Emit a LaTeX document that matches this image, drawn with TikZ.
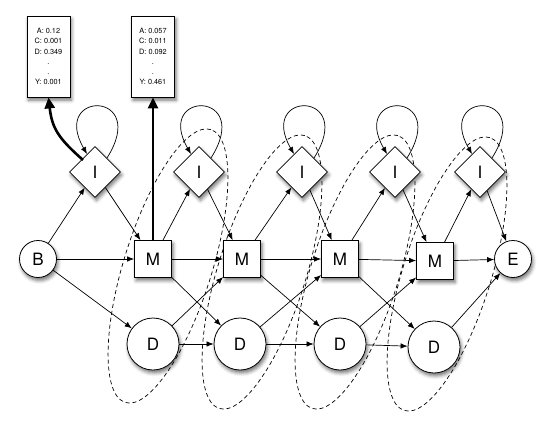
\documentclass[tikz,border=0pt]{standalone}
\usepackage{fontspec}
\setmainfont{TeX Gyre Heros}
\usetikzlibrary{shapes.geometric,arrows.meta,shadows.blur}
\tikzset{
  shad/.style={blur shadow={shadow xshift=1.5pt,shadow yshift=-3pt,shadow blur radius=3.5pt,shadow opacity=55}},
  lbl/.style={font=\fontsize{17}{20}\selectfont},
  circnode/.style={circle,draw,fill=white,line width=0.8pt,minimum size=37pt,inner sep=0pt,shad,lbl},
  delnode/.style={circnode,minimum size=52pt},
  insnode/.style={diamond,draw,fill=white,line width=0.8pt,minimum size=51pt,inner sep=0pt,shad,lbl},
  matnode/.style={rectangle,draw,fill=white,line width=0.8pt,minimum size=37pt,inner sep=0pt,shad,lbl},
  emisbox/.style={rectangle,draw,fill=white,line width=0.8pt,minimum width=43pt,minimum height=81pt,inner sep=0pt,align=center,shad,font=\fontsize{7.3}{10.2}\selectfont},
  conn/.style={-{Latex[length=7pt,width=5.5pt]},line width=0.7pt},
  thickconn/.style={-{Triangle[length=11pt,width=10pt]},line width=2.6pt},
  dashring/.style={dashed,dash pattern=on 4pt off 3pt,line width=0.7pt}
}
\begin{document}
\begin{tikzpicture}[x=1pt,y=-1pt]
\useasboundingbox (0,0) rectangle (554,447);
% dashed rings
\foreach \cx/\cy in {168/266,262/272,355/272,447/274}
  \draw[dashring,rotate around={72.6:(\cx,\cy)}] (\cx,\cy) ellipse [x radius=143pt,y radius=44pt];
% nodes
\node[circnode] (B) at (38,259) {B};
\node[circnode] (E) at (513,259) {E};
\node[insnode] (I1) at (95,172) {I};
\node[insnode] (I2) at (199,172) {I};
\node[insnode] (I3) at (302,172) {I};
\node[insnode] (I4) at (395,172) {I};
\node[insnode] (I5) at (480,172) {I};
\node[matnode] (M1) at (153,259) {M};
\node[matnode] (M2) at (242,259) {M};
\node[matnode] (M3) at (340,259) {M};
\node[matnode] (M4) at (435,261) {M};
\node[delnode] (D1) at (153,344) {D};
\node[delnode] (D2) at (240,344) {D};
\node[delnode] (D3) at (340,344) {D};
\node[delnode] (D4) at (434,347) {D};
\node[emisbox] (box1) at (48.5,56.5) {A: 0.12\\C: 0.001\\D: 0.349\\.\\.\\Y: 0.001};
\node[emisbox] (box2) at (153,56.5) {A: 0.057\\C: 0.011\\D: 0.092\\.\\.\\Y: 0.461};
% self loops
\foreach \n in {I1,I2,I3,I4,I5}
  \draw[conn] ([shift={(12,-14)}]\n.center) .. controls +(43,-68) and +(-37,-64) .. ([shift={(-8,-18)}]\n.center);
% thick emission arrows
\draw[thickconn] ([shift={(-12,-12)}]I1.center) .. controls (58,138) and (52,128) .. (box1.south);
\draw[thickconn] (M1.north) -- (box2.south);
% transitions
\draw[conn] (B) -- (I1);
\draw[conn] (B) -- (M1);
\draw[conn] (B) -- (D1);
\draw[conn] (I1) -- (M1);
\draw[conn] (M1) -- (I2);
\draw[conn] (M1) -- (M2);
\draw[conn] (M1) -- (D2);
\draw[conn] (I2) -- (M2);
\draw[conn] (D1) -- (M2);
\draw[conn] (D1) -- (D2);
\draw[conn] (M2) -- (I3);
\draw[conn] (M2) -- (M3);
\draw[conn] (M2) -- (D3);
\draw[conn] (I3) -- (M3);
\draw[conn] (D2) -- (M3);
\draw[conn] (D2) -- (D3);
\draw[conn] (M3) -- (I4);
\draw[conn] (M3) -- (M4);
\draw[conn] (M3) -- (D4);
\draw[conn] (I4) -- (M4);
\draw[conn] (D3) -- (M4);
\draw[conn] (D3) -- (D4);
\draw[conn] (M4) -- (I5);
\draw[conn] (M4) -- (E);
\draw[conn] (I5) -- (E);
\draw[conn] (D4) -- (E);
\end{tikzpicture}
\end{document}
